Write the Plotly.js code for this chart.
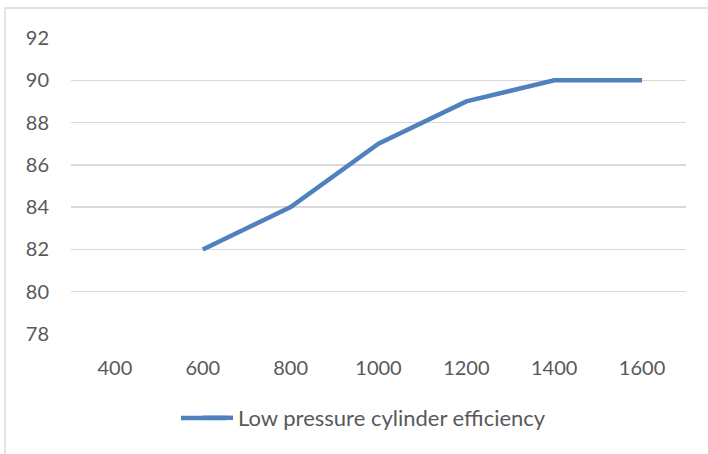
<!DOCTYPE html>
<html>
<head>
<meta charset="utf-8">
<script src="https://cdn.plot.ly/plotly-3.0.1.min.js"></script>
<style>html,body{margin:0;padding:0;background:#fff;}#chart{width:708px;height:454px;}</style>
</head>
<body>
<div id="chart"></div>
<script>
const categories = ["400", "600", "800", "1000", "1200", "1400", "1600"];
const efficiency = [null, 82, 84, 87, 89, 90, 90];
const seriesName = "Low pressure cylinder efficiency";
const yTicks = [78, 80, 82, 84, 86, 88, 90, 92];

const W = 708, H = 454;
const mL = 71, mR = 22, mT = 38, mB = 120;
const pw = W - mL - mR, ph = H - mT - mB;
const px = v => (v - mL) / pw;
const py = v => (H - mB - v) / ph;
const lineColor = "#4F81BD";

const trace = {
  x: categories,
  y: efficiency,
  type: "scatter",
  mode: "lines",
  name: seriesName,
  line: { color: lineColor, width: 4.5 },
  connectgaps: false,
  showlegend: true
};

const tickFont = { family: "Lato, 'Open Sans', sans-serif", size: 20, color: "#595959" };
const legFont = { family: "Lato, 'Open Sans', sans-serif", size: 22, color: "#595959" };

const layout = {
  width: W, height: H,
  margin: { l: mL, r: mR, t: mT, b: mB, pad: 0 },
  paper_bgcolor: "#ffffff",
  plot_bgcolor: "#ffffff",
  font: tickFont,
  xaxis: {
    type: "category",
    categoryorder: "array",
    categoryarray: categories,
    range: [-0.5, categories.length - 0.5],
    showgrid: false,
    zeroline: false,
    showline: false,
    ticks: "",
    ticklabelstandoff: 20,
    tickfont: tickFont,
    fixedrange: true
  },
  yaxis: {
    range: [78, 92],
    tickvals: yTicks,
    ticktext: yTicks.map(String),
    showgrid: true,
    gridcolor: "#d9d9d9",
    gridwidth: 1.3,
    zeroline: false,
    showline: false,
    ticks: "",
    ticklabelstandoff: 21,
    tickfont: tickFont,
    fixedrange: true
  },
  showlegend: true,
  legend: {
    orientation: "h",
    x: px(198),
    xanchor: "left",
    y: py(418),
    yanchor: "middle",
    font: legFont,
    bgcolor: "rgba(0,0,0,0)"
  },
  shapes: [{
    type: "rect",
    xref: "paper", yref: "paper",
    x0: px(5), x1: px(712),
    y0: py(458), y1: py(8),
    line: { color: "#d9d9d9", width: 1.3 },
    fillcolor: "rgba(0,0,0,0)",
    layer: "below"
  }, {
    type: "line",
    xref: "paper", yref: "paper",
    x0: px(181), x1: px(226),
    y0: py(418), y1: py(418),
    line: { color: lineColor, width: 4.5 },
    layer: "above"
  }]
};

Plotly.newPlot("chart", [trace], layout, { displayModeBar: false, staticPlot: true });
</script>
</body>
</html>
